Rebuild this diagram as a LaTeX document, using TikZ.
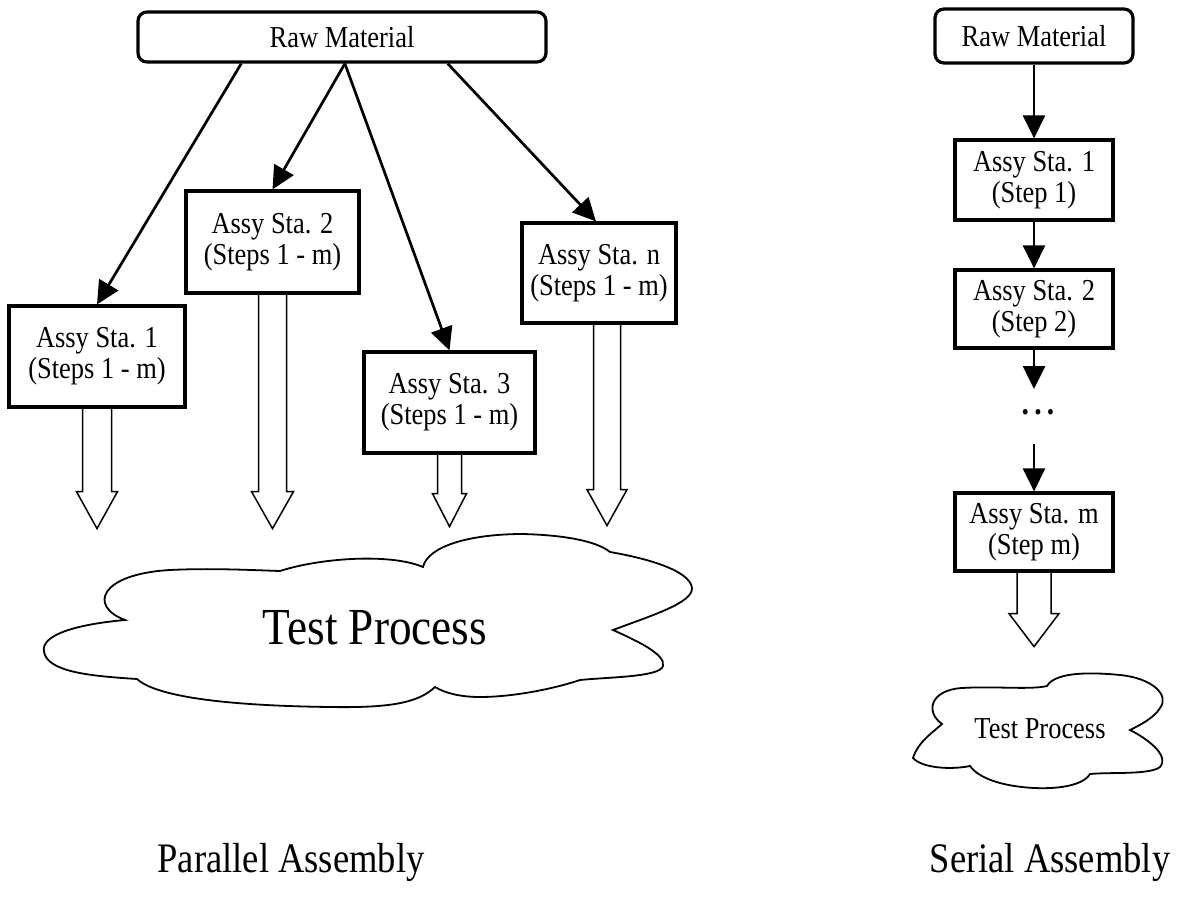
\documentclass[tikz,border=0pt]{standalone}
\usepackage{fontspec}
\setmainfont{Liberation Serif}[FakeStretch=0.87]
\usetikzlibrary{arrows.meta,calc}
\newcommand\bxfont{\fontsize{15.2}{15.5}\selectfont}
\tikzset{
  box/.style={draw, line width=1.6pt, align=center, font=\bxfont, inner sep=0pt},
  rbox/.style={box, rounded corners=4.5pt},
  arr/.style={line width=1.35pt, -{Triangle[length=11.5pt,width=11pt]}},
  hollowline/.style={line width=0.75pt, line join=miter},
  cloudline/.style={line width=0.9pt, line join=miter},
  title/.style={font=\fontsize{21}{24}\selectfont},
}
% #1 start point, #2 shaft half width, #3 head half width, #4 depth where head starts, #5 tip depth
\newcommand\hollowarrow[5]{%
  \draw[hollowline] ($(#1)+(-#2,0)$) -- ($(#1)+(-#2,#4)$) -- ($(#1)+(-#3,#4)$)
    -- ($(#1)+(0,#5)$) -- ($(#1)+(#3,#4)$) -- ($(#1)+(#2,#4)$) -- ($(#1)+(#2,0)$);}
\begin{document}
\begin{tikzpicture}[x=0.5pt,y=-0.5pt]
\useasboundingbox (0,0) rectangle (1182,909);

% ---------------- Parallel assembly ----------------
\node[rbox, minimum width=204pt, minimum height=25pt] (RMp) at (342,37) {Raw Material};
\node[box, minimum width=88pt, minimum height=50.5pt] (P1) at (97,356.5) {Assy Sta. 1\\(Steps 1 - m)};
\node[box, minimum width=86.5pt, minimum height=51pt] (P2) at (272.5,242) {Assy Sta. 2\\(Steps 1 - m)};
\node[box, minimum width=85.5pt, minimum height=50.5pt] (P3) at (449.5,402.5) {Assy Sta. 3\\(Steps 1 - m)};
\node[box, minimum width=77pt, minimum height=50pt] (Pn) at (599,273) {Assy Sta. n\\(Steps 1 - m)};

\draw[arr] ($(RMp.south west)!0.255!(RMp.south east)$) -- (P1.north);
\draw[arr] ($(RMp.south west)!0.507!(RMp.south east)$) -- (P2.north);
\draw[arr] ($(RMp.south west)!0.507!(RMp.south east)$) -- (P3.north);
\draw[arr] ($(RMp.south west)!0.757!(RMp.south east)$) -- ($(Pn.north)+(-3,0)$);

\hollowarrow{P1.south}{14.5}{20.5}{83}{120}
\hollowarrow{P2.south}{14}{21}{197}{234}
\hollowarrow{P3.south}{12}{17}{39}{72}
\coordinate (hn) at ($(Pn.south)+(8,0)$);
\hollowarrow{hn}{13.5}{20}{165}{201}

% big cloud
\draw[cloudline]
  (125,620) .. controls (88,606) and (100,574) .. (170,570)
            .. controls (210,568) and (250,570) .. (280,571)
            .. controls (320,558) and (390,553) .. (423,567)
            .. controls (428,546) and (470,534) .. (523,534)
            .. controls (560,535) and (595,540) .. (610,552)
            .. controls (645,558) and (690,570) .. (692,588)
            .. controls (693,603) and (650,616) .. (613,630)
            .. controls (635,640) and (666,654) .. (663,666)
            .. controls (660,677) and (610,677) .. (580,680)
            .. controls (550,690) and (510,697) .. (480,697)
            .. controls (460,697) and (445,693) .. (435,687)
            .. controls (418,703) and (390,708) .. (330,707)
            .. controls (250,706) and (160,700) .. (137,679)
            .. controls (90,676) and (48,672) .. (44,652)
            .. controls (40,634) and (80,624) .. cycle;
\node[font=\fontsize{26}{28}\selectfont] (TPp) at (375,628) {Test Process};

\node[title] (Tpar) at (291,862) {Parallel Assembly};

% ---------------- Serial assembly ----------------
\node[rbox, minimum width=99pt, minimum height=27pt] (RMs) at (1034,36) {Raw Material};
\node[box, minimum width=79pt, minimum height=40pt] (S1) at (1034,180) {Assy Sta. 1\\(Step 1)};
\node[box, minimum width=79pt, minimum height=39pt] (S2) at (1034,309) {Assy Sta. 2\\(Step 2)};
\node[font=\fontsize{17}{18}\selectfont\bfseries] (dots) at (1038,412) {.\hspace{2.6pt}.\hspace{2.6pt}.};
\coordinate (d1) at (1034,389);
\coordinate (d2) at (1034,444);
\node[box, minimum width=79pt, minimum height=39pt] (Sm) at (1034,532) {Assy Sta. m\\(Step m)};

\draw[arr] (RMs.south) -- (S1.north);
\draw[arr] (S1.south) -- (S2.north);
\draw[arr] (S2.south) -- (d1);
\draw[arr] (d2) -- (Sm.north);

\hollowarrow{Sm.south}{17}{25}{41}{74}

% small cloud
\draw[cloudline]
  (942,724) .. controls (925,712) and (930,690) .. (962,688)
            .. controls (995,686) and (1030,690) .. (1047,686)
            .. controls (1055,672) and (1090,672) .. (1120,675)
            .. controls (1152,678) and (1170,695) .. (1160,708)
            .. controls (1154,718) and (1140,725) .. (1130,730)
            .. controls (1146,738) and (1170,755) .. (1160,767)
            .. controls (1150,775) and (1110,772) .. (1090,774)
            .. controls (1080,791) and (1030,791) .. (1000,783)
            .. controls (985,779) and (975,773) .. (970,766)
            .. controls (950,770) and (922,768) .. (913,758)
            .. controls (918,742) and (932,733) .. cycle;
\node[font=\bxfont] (TPs) at (1040,729) {Test Process};

\node[title] (Tser) at (1050,862) {Serial Assembly};
\end{tikzpicture}
\end{document}
